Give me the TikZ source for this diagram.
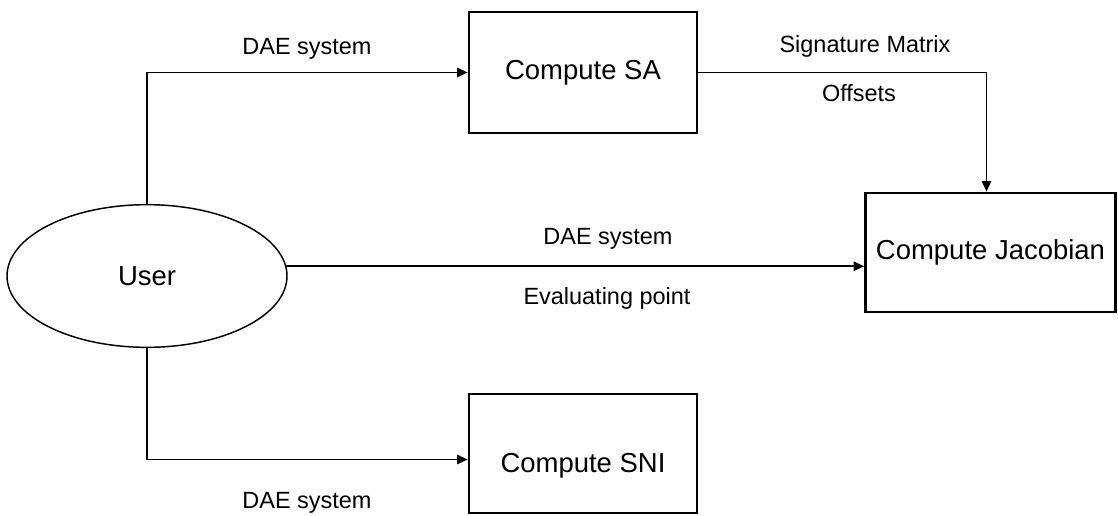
\documentclass[tikz,border=0pt]{standalone}
\usepackage{fontspec}
\setmainfont{Liberation Sans}
\usetikzlibrary{arrows.meta,shapes.geometric,calc}
\begin{document}
\begin{tikzpicture}[x=0.75pt,y=-0.75pt,
  boxfont/.style={font=\fontsize{20.6}{24}\selectfont},
  procbox/.style={draw,line width=1.9pt,inner sep=0pt,boxfont},
  usernode/.style={draw,ellipse,line width=1.1pt,inner sep=0pt,boxfont,
    minimum width=210pt,minimum height=107pt},
  lbl/.style={inner sep=0pt,font=\fontsize{17.6}{21}\selectfont,text height=0.72em,text depth=0pt},
  conn/.style={line width=1.4pt,-{Triangle[length=8pt,width=7pt]}}]
\useasboundingbox (0,0) rectangle (1118,515);
\node[usernode] (user) at (147,276) {User};
\node[procbox,minimum width=171pt,minimum height=90.75pt] (sa) at (583,72.5) {Compute SA};
\node[procbox,minimum width=187.5pt,minimum height=89.25pt] (jac) at (990.5,252.5) {Compute Jacobian};
\node[procbox,minimum width=171pt,minimum height=89.25pt,
  label={[boxfont,yshift=-9pt]center:Compute SNI}] (sni) at (583,453.5) {};
% connectors
\draw[conn] (user.north) |- (sa.west);
\draw[conn] (sa.east) -| ($(jac.north)+(-4,0)$);
\draw[conn] (user.4.6) -- (user.4.6 -| jac.west);
\draw[conn] (user.south) |- ($(sni.west)+(0,6)$);
% labels
\node[lbl] (l1) at (307,50) {DAE system};
\node[lbl] (l2) at (865,48) {Signature Matrix};
\node[lbl] (l3) at (859,97) {Offsets};
\node[lbl] (l4) at (608,240) {DAE system};
\node[lbl] (l5) at (607,300) {Evaluating point};
\node[lbl] (l6) at (307,504) {DAE system};
\end{tikzpicture}
\end{document}
